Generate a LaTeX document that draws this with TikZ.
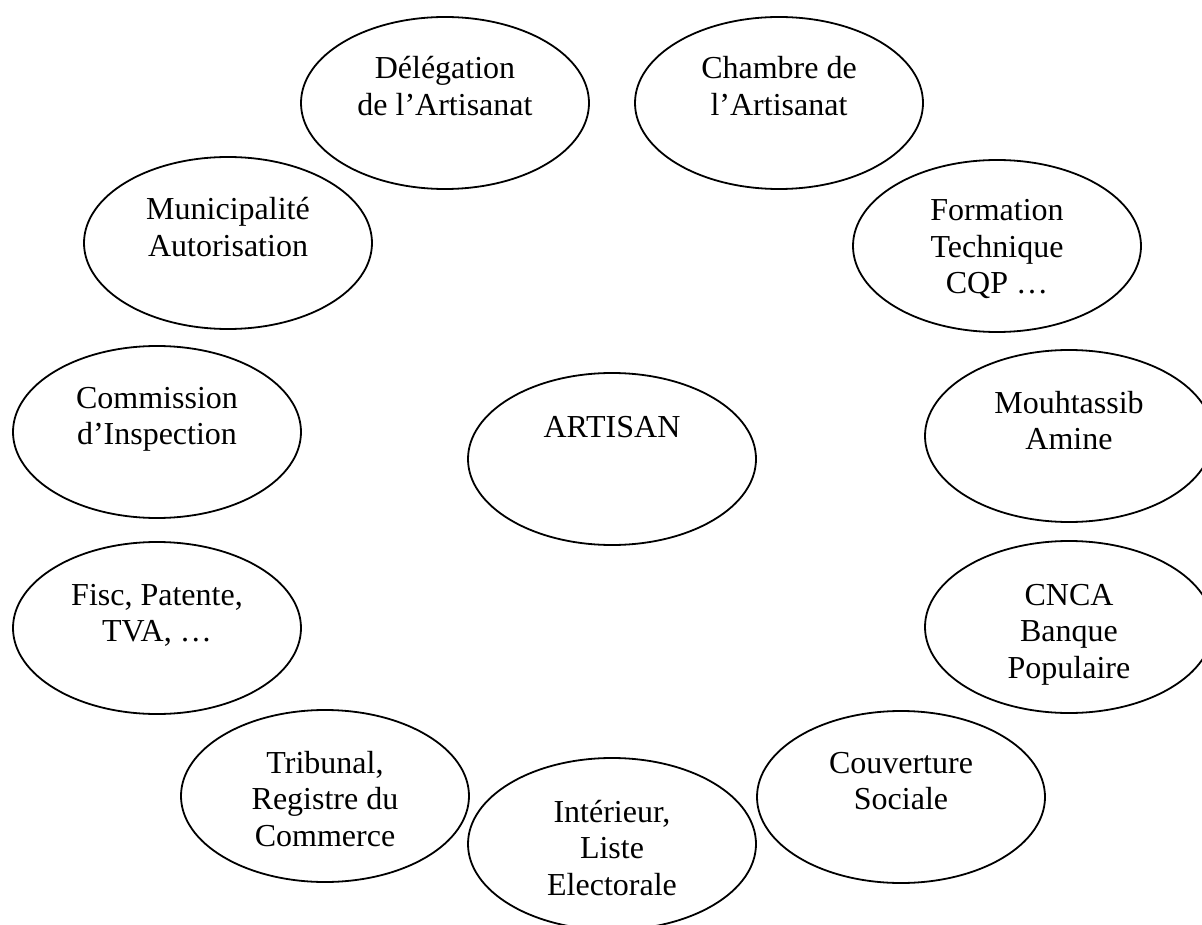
\documentclass[tikz,border=0pt]{standalone}
\usepackage{fontspec}
\setmainfont{Liberation Serif}
\usetikzlibrary{shapes.geometric,calc}
\tikzset{
  oval/.style={draw=black, line width=1.8pt, ellipse, minimum width=288pt, minimum height=172pt, inner sep=0pt},
  txt/.style={align=flush center, text width=280pt, anchor=base, inner sep=0pt, font=\fontsize{32}{36.5}\selectfont}
}
\begin{document}
\begin{tikzpicture}[x=1pt,y=-1pt]
\useasboundingbox (0,0) rectangle (1202,925);
\clip (0,0) rectangle (1202,925);
\fill[white] (0,0) rectangle (1202,925);
\node[oval] (del) at (445,103) {};
\node[oval] (cha) at (779,103) {};
\node[oval] (mun) at (228,243) {};
\node[oval] (for) at (997,246) {};
\node[oval] (com) at (157,432) {};
\node[oval] (art) at (612,459) {};
\node[oval] (mou) at (1069,436) {};
\node[oval] (fis) at (157,628) {};
\node[oval] (cnc) at (1069,627) {};
\node[oval] (tri) at (325,796) {};
\node[oval] (cou) at (901,797) {};
\node[oval] (int) at (612,844) {};
\node[txt] (tdel) at ($(del.center)+(0,-24)$) {Délégation\\de l’Artisanat};
\node[txt] (tcha) at ($(cha.center)+(0,-24)$) {Chambre de\\l’Artisanat};
\node[txt] (tmun) at ($(mun.center)+(0,-23)$) {Municipalité\\Autorisation};
\node[txt] (tfor) at ($(for.center)+(0,-25)$) {Formation\\Technique\\CQP …};
\node[txt] (tcom) at ($(com.center)+(0,-24)$) {Commission\\d’Inspection};
\node[txt] (tart) at ($(art.center)+(0,-22)$) {ARTISAN};
\node[txt] (tmou) at ($(mou.center)+(0,-23)$) {Mouhtassib\\Amine};
\node[txt] (tfis) at ($(fis.center)+(0,-23)$) {Fisc, Patente,\\TVA, …};
\node[txt] (tcnc) at ($(cnc.center)+(0,-22)$) {CNCA\\Banque\\Populaire};
\node[txt] (ttri) at ($(tri.center)+(0,-23)$) {Tribunal,\\Registre du\\Commerce};
\node[txt] (tcou) at ($(cou.center)+(0,-24)$) {Couverture\\Sociale};
\node[txt] (tint) at ($(int.center)+(0,-22)$) {Intérieur,\\Liste\\Electorale};
\end{tikzpicture}
\end{document}
